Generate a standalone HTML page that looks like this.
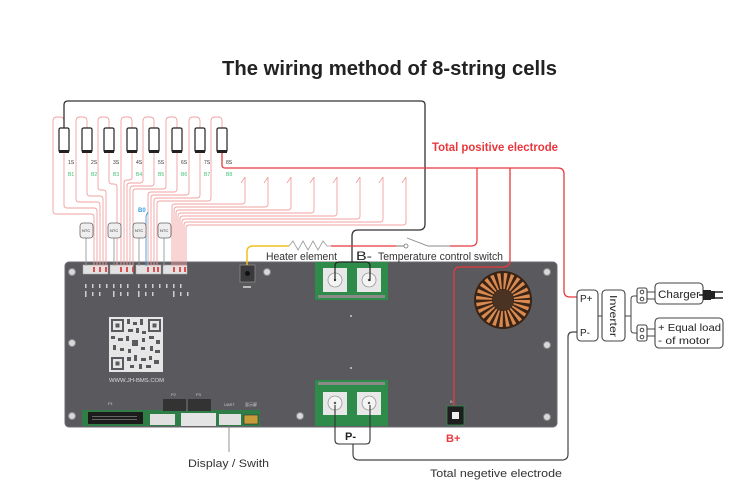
<!DOCTYPE html>
<html><head><meta charset="utf-8"><style>
html,body{margin:0;padding:0;background:#fff;}
svg{display:block;}
text{font-family:"Liberation Sans","Noto Sans CJK SC",sans-serif;}
</style></head><body>
<svg width="750" height="503" viewBox="0 0 750 503" xmlns="http://www.w3.org/2000/svg">
<rect width="750" height="503" fill="#fff"/>
<text x="222" y="75" font-size="20" font-weight="bold" fill="#222" textLength="335" lengthAdjust="spacingAndGlyphs">The wiring method of 8-string cells</text>

<!-- board -->
<rect x="65" y="262" width="492" height="165" rx="4" fill="#5a5a5e" stroke="#6c6c70" stroke-width="1"/>
<g fill="#d8d8d8" stroke="#888" stroke-width="1">
<circle cx="72" cy="272" r="3.5"/><circle cx="72" cy="343" r="3.5"/><circle cx="72" cy="416" r="3.5"/>
<circle cx="267" cy="272" r="3.5"/><circle cx="300" cy="416" r="3.5"/>
<circle cx="547" cy="272" r="3.5"/><circle cx="547" cy="345" r="3.5"/><circle cx="547" cy="417" r="3.5"/>
</g>
<!-- top connectors -->
<g fill="#e2e2e2" stroke="#aaa" stroke-width="0.5">
<rect x="83" y="265" width="25" height="9"/><rect x="110" y="265" width="23" height="9"/>
<rect x="136" y="265" width="25" height="9"/><rect x="163" y="265" width="24" height="9"/>
</g>
<!-- tiny board labels -->
<g fill="#cfcfcf">
<rect x="85" y="284" width="1.5" height="4"/><rect x="92" y="284" width="1.5" height="4"/><rect x="99" y="284" width="1.5" height="4"/><rect x="106" y="284" width="1.5" height="4"/>
<rect x="113" y="284" width="1.5" height="4"/><rect x="120" y="284" width="1.5" height="4"/><rect x="127" y="284" width="1.5" height="4"/>
<rect x="138" y="284" width="1.5" height="4"/><rect x="145" y="284" width="1.5" height="4"/><rect x="152" y="284" width="1.5" height="4"/><rect x="159" y="284" width="1.5" height="4"/>
<rect x="166" y="284" width="1.5" height="4"/><rect x="173" y="284" width="1.5" height="4"/><rect x="180" y="284" width="1.5" height="4"/>
<rect x="85" y="291" width="1.5" height="6"/><rect x="92" y="292" width="1.5" height="4"/><rect x="99" y="292" width="1.5" height="4"/>
<rect x="113" y="291" width="1.5" height="6"/><rect x="120" y="292" width="1.5" height="4"/><rect x="127" y="292" width="1.5" height="4"/>
<rect x="138" y="291" width="1.5" height="6"/><rect x="145" y="292" width="1.5" height="4"/><rect x="152" y="292" width="1.5" height="4"/>
<rect x="173" y="291" width="1.5" height="6"/><rect x="180" y="292" width="1.5" height="4"/><rect x="187" y="292" width="1.5" height="4"/>
</g>
<!-- sensor -->
<rect x="240" y="265" width="15" height="17" fill="#3a3a3c" stroke="#8a8a8a" stroke-width="0.8"/>
<circle cx="247.5" cy="273.5" r="2.5" fill="#111"/>
<rect x="243" y="286" width="8" height="2" fill="#bbb"/>
<!-- QR -->
<rect x="109" y="317" width="54" height="55" fill="#e6e6e6"/>
<g fill="none" stroke="#5a5a5e" stroke-width="2">
<rect x="112" y="320" width="11" height="11"/><rect x="149" y="320" width="11" height="11"/><rect x="112" y="358" width="11" height="11"/>
</g>
<g fill="#5a5a5e">
<rect x="115.5" y="323.5" width="4" height="4"/><rect x="152.5" y="323.5" width="4" height="4"/><rect x="115.5" y="361.5" width="4" height="4"/>
<rect x="127" y="319" width="3" height="5"/><rect x="133" y="322" width="4" height="3"/><rect x="140" y="319" width="3" height="6"/>
<rect x="128" y="329" width="5" height="3"/><rect x="136" y="328" width="3" height="5"/><rect x="142" y="331" width="4" height="3"/>
<rect x="111" y="336" width="4" height="3"/><rect x="118" y="338" width="5" height="3"/><rect x="126" y="336" width="3" height="5"/>
<rect x="132" y="340" width="6" height="6"/><rect x="142" y="338" width="3" height="4"/><rect x="149" y="336" width="5" height="3"/>
<rect x="156" y="340" width="4" height="4"/><rect x="113" y="345" width="3" height="5"/><rect x="120" y="348" width="4" height="3"/>
<rect x="128" y="349" width="3" height="4"/><rect x="141" y="347" width="4" height="3"/><rect x="150" y="346" width="3" height="5"/>
<rect x="155" y="350" width="5" height="3"/><rect x="127" y="357" width="4" height="4"/><rect x="134" y="355" width="3" height="6"/>
<rect x="141" y="358" width="5" height="3"/><rect x="149" y="356" width="3" height="4"/><rect x="154" y="360" width="5" height="4"/>
<rect x="130" y="365" width="4" height="3"/><rect x="139" y="364" width="3" height="5"/><rect x="146" y="365" width="5" height="3"/>
</g>
<text x="109" y="382" font-size="5" fill="#ddd" textLength="55" lengthAdjust="spacingAndGlyphs">WWW.JH-BMS.COM</text>
<!-- bottom strip -->
<rect x="82" y="410" width="178" height="16" fill="#2f7d47"/>
<rect x="88" y="412" width="55" height="12" fill="#1c1c1c"/>
<g fill="#666"><rect x="92" y="416" width="45" height="1"/><rect x="92" y="419" width="45" height="1"/></g>
<rect x="150" y="414" width="25" height="11" fill="#e0e0e0"/>
<rect x="181" y="413" width="35" height="13" fill="#e4e4e4"/>
<rect x="219" y="414" width="22" height="11" fill="#e0e0e0"/>
<rect x="244" y="415" width="14" height="9" fill="#c79a3a" stroke="#333" stroke-width="0.6"/>
<rect x="163" y="399" width="23" height="12" fill="#333"/><rect x="188" y="399" width="23" height="12" fill="#333"/>
<text x="108" y="405" font-size="4" fill="#ccc">P1</text>
<text x="171" y="396" font-size="4" fill="#ccc">P2</text>
<text x="196" y="396" font-size="4" fill="#ccc">P3</text>
<text x="224" y="406" font-size="4" fill="#ccc">UART</text>
<text x="245" y="406" font-size="4" fill="#ddd">显示屏</text>
<!-- green power blocks -->
<rect x="315" y="262" width="73" height="38" fill="#2e8b4a"/>
<rect x="318" y="295" width="67" height="3" fill="#8a8a8a"/>
<rect x="323" y="268" width="24" height="24" fill="#e8e8e8"/><rect x="357" y="268" width="24" height="24" fill="#e8e8e8"/>
<circle cx="335" cy="280" r="7" fill="#f4f4f4" stroke="#999" stroke-width="0.8"/><circle cx="369" cy="280" r="7" fill="#f4f4f4" stroke="#999" stroke-width="0.8"/>
<circle cx="335" cy="280" r="1.2" fill="#555"/><circle cx="369" cy="280" r="1.2" fill="#555"/>
<rect x="315" y="380" width="73" height="46" fill="#2e8b4a"/>
<rect x="318" y="382" width="67" height="3" fill="#8a8a8a"/>
<rect x="323" y="392" width="24" height="23" fill="#e8e8e8"/><rect x="357" y="392" width="24" height="23" fill="#e8e8e8"/>
<circle cx="335" cy="403" r="7" fill="#f4f4f4" stroke="#999" stroke-width="0.8"/><circle cx="369" cy="403" r="7" fill="#f4f4f4" stroke="#999" stroke-width="0.8"/>
<circle cx="335" cy="403" r="1.2" fill="#555"/><circle cx="369" cy="403" r="1.2" fill="#555"/>
<circle cx="351" cy="316" r="1" fill="#ccc"/><circle cx="351" cy="368" r="1" fill="#ccc"/>
<!-- toroid -->
<circle cx="503" cy="300" r="29" fill="#3a2416"/>
<circle cx="503" cy="300" r="19" fill="none" stroke="#d98a50" stroke-width="16" stroke-dasharray="2.6 2.4"/>
<circle cx="503" cy="300" r="10.5" fill="#4a3322"/>
<!-- B+ terminal -->
<rect x="447" y="406" width="17" height="19" fill="#1e1e1e" stroke="#2e8b4a" stroke-width="0.8"/>
<rect x="452" y="412" width="7" height="7" fill="#eee"/>
<text x="450" y="403" font-size="4" fill="#ccc">B+</text>

<!-- pink balance wires -->
<g fill="none" stroke="#f2a0a0" stroke-width="0.9">
<path d="M64,128 V121 Q64,117 60,117 H57 Q53,117 53,121 V211 Q53,214 56,214 H91 Q94,214 94,217 V266"/>
<path d="M64,153 V205 Q64,208 67,208 H94 Q97,208 97,211 V266"/>
<path d="M87,128 V121 Q87,117 83,117 H80 Q76,117 76,121 V199 Q76,202 79,202 H97 Q100,202 100,205 V266"/>
<path d="M87,153 V193 Q87,196 90,196 H100 Q103,196 103,199 V266"/>
<path d="M109,128 V121 Q109,117 105,117 H102 Q98,117 98,121 V187 Q98,190 101,190 H103 Q106,190 106,193 V266"/>
<path d="M109,153 V181 Q109,184 112,184 H114 Q117,184 117,187 V266"/>
<path d="M132,128 V121 Q132,117 128,117 H125 Q121,117 121,121 V266"/>
<path d="M132,153 V177 Q132,180 129,180 H127 Q124,180 124,183 V266"/>
<path d="M154,128 V121 Q154,117 150,117 H147 Q143,117 143,121 V180 Q143,183 140,183 H130 Q127,183 127,186 V266"/>
<path d="M154,153 V183 Q154,186 151,186 H133 Q130,186 130,189 V266"/>
<path d="M177,128 V121 Q177,117 173,117 H170 Q166,117 166,121 V186 Q166,189 163,189 H136 Q133,189 133,192 V266"/>
<path d="M177,153 V189 Q177,192 174,192 H151 Q148,192 148,195 V266"/>
<path d="M200,128 V121 Q200,117 196,117 H193 Q189,117 189,121 V192 Q189,195 186,195 H154 Q151,195 151,198 V266"/>
<path d="M200,153 V195 Q200,198 197,198 H157 Q154,198 154,201 V266"/>
<path d="M222,128 V121 Q222,117 218,117 H215 Q211,117 211,121 V198 Q211,201 208,201 H160 Q157,201 157,204 V266"/>
<!-- arrows -->
<path d="M245,177 V201 Q245,204 242,204 H175 Q172,204 172,207 V266 M241,183 L245,177"/>
<path d="M268,177 V204 Q268,207 265,207 H177 Q174,207 174,210 V266 M264,183 L268,177"/>
<path d="M291,177 V207 Q291,210 288,210 H179 Q176,210 176,213 V266 M287,183 L291,177"/>
<path d="M314,177 V210 Q314,213 311,213 H181 Q178,213 178,216 V266 M310,183 L314,177"/>
<path d="M337,177 V213 Q337,216 334,216 H183 Q180,216 180,219 V266 M333,183 L337,177"/>
<path d="M360,177 V216 Q360,219 357,219 H185 Q182,219 182,222 V266 M356,183 L360,177"/>
<path d="M383,177 V219 Q383,222 380,222 H187 Q184,222 184,225 V266 M379,183 L383,177"/>
<path d="M406,177 V222 Q406,225 403,225 H189 Q186,225 186,228 V266 M402,183 L406,177"/>
</g>
<!-- red pin marks on connectors -->
<g fill="#e05050">
<rect x="93" y="267" width="2" height="5"/><rect x="99" y="267" width="2" height="5"/><rect x="105" y="267" width="2" height="5"/>
<rect x="120" y="267" width="2" height="5"/><rect x="126" y="267" width="2" height="5"/><rect x="132" y="267" width="1.5" height="5"/>
<rect x="147" y="267" width="2" height="5"/><rect x="153" y="267" width="2" height="5"/><rect x="157" y="267" width="2" height="5"/>
<rect x="173" y="267" width="2" height="5"/><rect x="179" y="267" width="2" height="5"/><rect x="184" y="267" width="2" height="5"/>
</g>
<!-- blue wire -->
<path d="M148,212 L146,216 V266" fill="none" stroke="#3a9ee0" stroke-width="0.9"/>
<text x="138" y="212" font-size="6" fill="#3a9ee0" font-weight="bold">B0</text>
<!-- NTC -->
<g stroke="#999" stroke-width="0.9"><path d="M86,238 V266 M114,238 V266 M139,238 V266 M164,238 V266"/></g>
<g fill="#eeeeee" stroke="#666" stroke-width="0.8">
<rect x="80" y="223" width="13" height="15" rx="3"/><rect x="108" y="223" width="13" height="15" rx="3"/>
<rect x="133" y="223" width="13" height="15" rx="3"/><rect x="158" y="223" width="13" height="15" rx="3"/>
</g>
<g font-size="4" fill="#333">
<text x="82" y="232">NTC</text><text x="110" y="232">NTC</text><text x="135" y="232">NTC</text><text x="160" y="232">NTC</text>
</g>

<!-- cells -->
<g fill="#fff" stroke="#222" stroke-width="1.2">
<rect x="59" y="128" width="10" height="24" rx="1.5"/><rect x="82" y="128" width="10" height="24" rx="1.5"/>
<rect x="104" y="128" width="10" height="24" rx="1.5"/><rect x="127" y="128" width="10" height="24" rx="1.5"/>
<rect x="149" y="128" width="10" height="24" rx="1.5"/><rect x="172" y="128" width="10" height="24" rx="1.5"/>
<rect x="195" y="128" width="10" height="24" rx="1.5"/><rect x="217" y="128" width="10" height="24" rx="1.5"/>
</g>
<g fill="#222">
<rect x="59" y="150" width="10" height="3"/><rect x="82" y="150" width="10" height="3"/><rect x="104" y="150" width="10" height="3"/><rect x="127" y="150" width="10" height="3"/>
<rect x="149" y="150" width="10" height="3"/><rect x="172" y="150" width="10" height="3"/><rect x="195" y="150" width="10" height="3"/><rect x="217" y="150" width="10" height="3"/>
</g>
<g font-size="5" fill="#333">
<text x="68" y="164">1S</text><text x="91" y="164">2S</text><text x="113" y="164">3S</text><text x="136" y="164">4S</text>
<text x="158" y="164">5S</text><text x="181" y="164">6S</text><text x="204" y="164">7S</text><text x="226" y="164">8S</text>
</g>
<g font-size="5" fill="#3cc070">
<text x="68" y="176">B1</text><text x="91" y="176">B2</text><text x="113" y="176">B3</text><text x="136" y="176">B4</text>
<text x="158" y="176">B5</text><text x="181" y="176">B6</text><text x="204" y="176">B7</text><text x="226" y="176">B8</text>
</g>

<!-- black B- wire -->
<path d="M64,128 V105 Q64,101 68,101 H421 Q425,101 425,105 V224 Q425,230 419,230 H358 Q352,230 352,236 V262" fill="none" stroke="#333" stroke-width="1.3"/>
<path d="M335,281 V266 Q335,262 339,262 H366 Q370,262 370,266 V281" fill="none" stroke="#222" stroke-width="1.2"/>

<!-- heater circuit -->
<path d="M247,265 V252 Q247,246 253,246 H289" fill="none" stroke="#f0c020" stroke-width="1.5"/>
<path d="M289,246 L293,241 L298,250 L303,241 L308,250 L313,241 L318,250 L323,241 L327,246 H331" fill="none" stroke="#999" stroke-width="0.8"/>
<path d="M331,246 H396" fill="none" stroke="#e8383d" stroke-width="1.2"/>
<path d="M396,246 H404" stroke="#777" stroke-width="1"/>
<circle cx="406" cy="246" r="2" fill="#fff" stroke="#777" stroke-width="0.8"/>
<path d="M407,238 L428,246 H450" fill="none" stroke="#888" stroke-width="0.9"/>
<path d="M450,246 H471 Q477,246 477,240 V168" fill="none" stroke="#e8383d" stroke-width="1.2"/>

<!-- red main positive -->
<path d="M222,153 V165 Q222,168 225,168 H558 Q564,168 564,174 V291 Q564,297 570,297 H577" fill="none" stroke="#e8383d" stroke-width="1.3"/>
<path d="M510,168 V260 Q510,267 503,267 H460 Q454,267 454,273 V406" fill="none" stroke="#e8383d" stroke-width="1.3"/>

<!-- P- negative -->
<path d="M577,332 H573 Q568,332 568,337 V454 Q568,460 562,460 H359 Q353,460 353,454 V444" fill="none" stroke="#444" stroke-width="1.2"/>
<path d="M335,405 V440 Q335,444 339,444 H366 Q370,444 370,440 V405" fill="none" stroke="#333" stroke-width="1.1"/>
<text x="345" y="440" font-size="11" font-weight="bold" fill="#222">P-</text>
<text x="446" y="442" font-size="11" font-weight="bold" fill="#e8383d">B+</text>

<!-- display line -->
<path d="M229,426 V452" stroke="#888" stroke-width="0.9"/>
<text x="188" y="467" font-size="11" fill="#333" textLength="81" lengthAdjust="spacingAndGlyphs">Display / Swith</text>
<text x="430" y="477" font-size="11" fill="#333" textLength="132" lengthAdjust="spacingAndGlyphs">Total negetive electrode</text>

<!-- labels -->
<text x="432" y="151" font-size="12" font-weight="bold" fill="#e8383d" textLength="126" lengthAdjust="spacingAndGlyphs">Total positive electrode</text>
<text x="266" y="260" font-size="11" fill="#333" textLength="71" lengthAdjust="spacingAndGlyphs">Heater element</text>
<text x="356" y="260" font-size="12" fill="#222" textLength="16" lengthAdjust="spacingAndGlyphs">B-</text>
<text x="378" y="260" font-size="11" fill="#333" textLength="125" lengthAdjust="spacingAndGlyphs">Temperature control switch</text>

<!-- right side -->
<g fill="#fff" stroke="#444" stroke-width="1.1">
<rect x="577" y="290" width="21" height="51" rx="4"/>
<rect x="602" y="290" width="23" height="51" rx="4"/>
<rect x="655" y="283" width="48" height="21" rx="4"/>
<rect x="655" y="318" width="68" height="30" rx="4"/>
<rect x="637" y="288" width="10" height="15" rx="2"/>
<rect x="637" y="325" width="10" height="16" rx="2"/>
</g>
<g fill="none" stroke="#444" stroke-width="1">
<path d="M598,316 H602 M625,316 H631 M637,296 H634 Q631,296 631,299 V330 Q631,333 634,333 H637"/>
<path d="M647,292 H655 M647,299 H655 M647,329 H655 M647,336 H655"/>
<circle cx="642" cy="292" r="1.8"/><circle cx="642" cy="299" r="1.8"/>
<circle cx="642" cy="330" r="1.8"/><circle cx="642" cy="337" r="1.8"/>
</g>
<rect x="703" y="290" width="8" height="10" fill="#222"/>
<rect x="711" y="291" width="4" height="8" fill="#222"/>
<path d="M715,292 H723 M715,298 H723 M703,295 H699" stroke="#222" stroke-width="1.6"/>
<text x="580" y="302" font-size="10" fill="#222">P+</text>
<text x="580" y="336" font-size="10" fill="#222">P-</text>
<text x="0" y="0" font-size="10" fill="#222" transform="translate(610,295) rotate(90)" textLength="42" lengthAdjust="spacingAndGlyphs">Inverter</text>
<text x="658" y="298" font-size="11" fill="#222" textLength="42" lengthAdjust="spacingAndGlyphs">Charger</text>
<text x="658" y="331" font-size="10" fill="#222" textLength="63" lengthAdjust="spacingAndGlyphs">+ Equal load</text>
<text x="658" y="344" font-size="10" fill="#222" textLength="52" lengthAdjust="spacingAndGlyphs">- of motor</text>
</svg>
</body></html>
